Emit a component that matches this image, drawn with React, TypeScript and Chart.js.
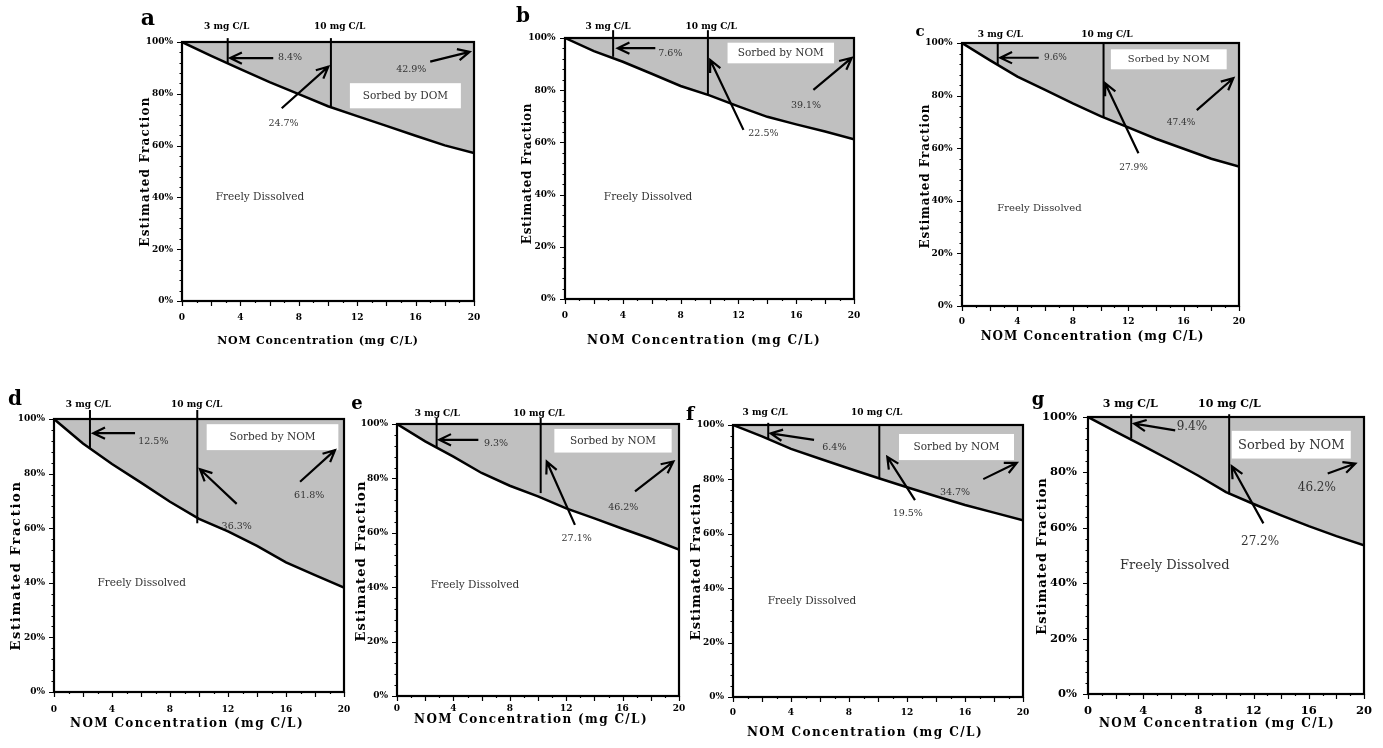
import React, { useEffect, useRef } from 'react';
import { Chart, registerables } from 'chart.js';

Chart.register(...registerables);

// ---------- data ----------
const concentration = [0, 2, 4, 6, 8, 10, 12, 14, 16, 18, 20];
const freeA = [100, 94.6, 89.5, 84.5, 79.9, 75.2, 71.4, 67.6, 63.8, 60.1, 57.1];
const freeB = [100, 95.0, 90.9, 86.3, 81.6, 78.0, 73.8, 69.8, 66.9, 64.2, 61.2];
const freeC = [100, 93.5, 87.2, 82.2, 77.0, 72.2, 67.9, 63.6, 59.8, 56.0, 53.0];
const freeD = [100, 91.0, 83.5, 76.7, 69.7, 63.4, 58.8, 53.5, 47.5, 42.8, 38.2];
const freeE = [100, 93.6, 88.0, 82.0, 77.3, 73.4, 69.0, 65.3, 61.5, 57.8, 53.8];
const freeF = [100, 95.8, 91.2, 87.6, 84.0, 80.5, 77.1, 73.8, 70.6, 67.8, 65.0];
const freeG = [100, 94.7, 89.6, 84.3, 78.8, 72.9, 68.6, 64.5, 60.6, 57.0, 53.7];

const sorbedA = ['8.4%', '24.7%', '42.9%'];
const sorbedB = ['7.6%', '22.5%', '39.1%'];
const sorbedC = ['9.6%', '27.9%', '47.4%'];
const sorbedD = ['12.5%', '36.3%', '61.8%'];
const sorbedE = ['9.3%', '27.1%', '46.2%'];
const sorbedF = ['6.4%', '19.5%', '34.7%'];
const sorbedG = ['9.4%', '27.2%', '46.2%'];

const xTickValues = [0, 4, 8, 12, 16, 20];
const yTickValues = [0, 20, 40, 60, 80, 100];
const markerLabels = ['3 mg C/L', '10 mg C/L'];
const xTitle = 'NOM Concentration (mg C/L)';
const yTitle = 'Estimated Fraction';
const freeLabel = 'Freely Dissolved';

const FONT = "'DejaVu Serif', serif";
const PAD_T = 50;
const PAD_R = 20;
const WY = 60;
const HX = 48;

type Pt = [number, number];
type Panel = {
  letter: string;
  free: number[];
  sorbed: string[];
  region: string;
  rect: [number, number, number, number];
  st: {
    tick: number; tickPadX: number; tickPadY: number;
    xt: number; xtSp: number; xtDy: number; xtDx: number;
    yt: number; ytSp: number; ytDx: number; ytDy: number;
    pct: number; box: number; freeF: number; mark: number;
    letter: number; letterAt: Pt;
  };
  lbl: [Pt, Pt];
  vlines: [number, number, number][];
  arrows: [number, number, number, number][];
  texts: Pt[];
  box: [number, number, number, number];
  freeAt: Pt;
};

const panels: Panel[] = [
  {
    letter: 'a', free: freeA, sorbed: sorbedA, region: 'Sorbed by DOM', rect: [182, 42, 474, 301],
    st: { tick: 9, tickPadX: 11.6, tickPadY: 9, xt: 11, xtSp: 0.75, xtDy: 40, xtDx: -10, yt: 12, ytSp: 1.2, ytDx: 36, ytDy: 0,
      pct: 9.5, box: 10.5, freeF: 10.5, mark: 9, letter: 22, letterAt: [-34, -23] },
    lbl: [[3.06, 105.9], [10.8, 105.9]],
    vlines: [[3.13, 101.5, 91.8], [10.2, 101.5, 75.0]],
    arrows: [[6.25, 93.8, 3.3, 93.8], [6.83, 74.4, 10.02, 90.5], [17.0, 92.4, 19.7, 96.2]],
    texts: [[7.4, 94], [6.95, 68.7], [15.7, 89.2]],
    box: [11.5, 84.1, 19.1, 74.4],
    freeAt: [5.34, 39.9],
  },
  {
    letter: 'b', free: freeB, sorbed: sorbedB, region: 'Sorbed by NOM', rect: [565, 38, 854, 299],
    st: { tick: 9, tickPadX: 11.3, tickPadY: 9.5, xt: 12, xtSp: 1.36, xtDy: 41.7, xtDx: -5.5, yt: 12, ytSp: 0.7, ytDx: 37, ytDy: 5,
      pct: 9.5, box: 10.5, freeF: 10.5, mark: 9, letter: 20, letterAt: [-42, -21] },
    lbl: [[2.98, 104.3], [10.12, 104.3]],
    vlines: [[3.33, 103, 92.8], [9.89, 103, 78.2]],
    arrows: [[6.25, 96.1, 3.65, 96.1], [12.35, 64.8, 10.05, 91.6], [17.19, 80.1, 19.84, 92.4]],
    texts: [[7.29, 94.1], [13.73, 63.5], [16.68, 74.3]],
    box: [11.25, 98.2, 18.62, 90.3],
    freeAt: [5.75, 38.8],
  },
  {
    letter: 'c', free: freeC, sorbed: sorbedC, region: 'Sorbed by NOM', rect: [962, 43, 1239, 306],
    st: { tick: 9, tickPadX: 10.3, tickPadY: 9.5, xt: 12, xtSp: 0.97, xtDy: 30.7, xtDx: -8, yt: 12, ytSp: 0.9, ytDx: 36.5, ytDy: 1.5,
      pct: 9, box: 10, freeF: 10, mark: 9, letter: 15, letterAt: [-42, -11] },
    lbl: [[2.77, 103.3], [10.47, 103.3]],
    vlines: [[2.58, 100, 91.6], [10.22, 100, 71.7]],
    arrows: [[5.54, 94.4, 2.77, 94.4], [12.74, 58.1, 10.34, 84.7], [16.95, 74.5, 19.59, 86.6]],
    texts: [[6.74, 94.3], [12.38, 52.5], [15.82, 69.6]],
    box: [10.75, 97.6, 19.11, 90.0],
    freeAt: [5.59, 37.1],
  },
  {
    letter: 'd', free: freeD, sorbed: sorbedD, region: 'Sorbed by NOM', rect: [54, 419, 344, 692],
    st: { tick: 9, tickPadX: 12.6, tickPadY: 9, xt: 12, xtSp: 1.36, xtDy: 32, xtDx: -12, yt: 13, ytSp: 1.7, ytDx: 37, ytDy: 10,
      pct: 9.5, box: 10.5, freeF: 10.5, mark: 9, letter: 20, letterAt: [-39, -19] },
    lbl: [[2.37, 105.4], [9.84, 105.4]],
    vlines: [[2.48, 103.3, 89.3], [9.88, 103.3, 61.8]],
    arrows: [[5.59, 94.8, 2.71, 94.8], [12.6, 68.9, 10.07, 81.6], [16.97, 77.0, 19.38, 88.6]],
    texts: [[6.85, 91.7], [12.6, 60.5], [17.6, 71.9]],
    box: [10.53, 98.1, 19.61, 88.6],
    freeAt: [6.05, 39.9],
  },
  {
    letter: 'e', free: freeE, sorbed: sorbedE, region: 'Sorbed by NOM', rect: [397, 424, 679, 696],
    st: { tick: 9, tickPadX: 7, tickPadY: 9, xt: 12, xtSp: 1.36, xtDy: 24, xtDx: -7, yt: 13, ytSp: 1.2, ytDx: 35, ytDy: 1,
      pct: 9.5, box: 10.5, freeF: 10.5, mark: 9, letter: 18, letterAt: [-40, -20] },
    lbl: [[2.86, 103.9], [10.07, 103.9]],
    vlines: [[2.81, 102.2, 91.2], [10.19, 102.2, 74.6]],
    arrows: [[5.77, 94.2, 3.0, 94.2], [12.62, 62.9, 10.62, 86.2], [16.88, 75.2, 19.6, 86.2]],
    texts: [[7.02, 93.0], [12.74, 58.0], [16.05, 69.4]],
    box: [11.16, 98.2, 19.48, 89.5],
    freeAt: [5.53, 40.8],
  },
  {
    letter: 'f', free: freeF, sorbed: sorbedF, region: 'Sorbed by NOM', rect: [733, 425, 1023, 697],
    st: { tick: 9, tickPadX: 10.6, tickPadY: 9, xt: 12, xtSp: 1.45, xtDy: 36, xtDx: -13, yt: 13, ytSp: 1.0, ytDx: 36, ytDy: 0.5,
      pct: 9.5, box: 10.5, freeF: 10.5, mark: 9, letter: 19, letterAt: [-43, -10] },
    lbl: [[2.21, 104.4], [9.91, 104.4]],
    vlines: [[2.43, 100.8, 94.9], [10.09, 100, 80.4]],
    arrows: [[5.59, 94.5, 2.6, 96.9], [12.55, 72.4, 10.64, 88.3], [17.26, 80.1, 19.57, 86.1]],
    texts: [[6.99, 91.7], [12.05, 67.5], [15.31, 75.1]],
    box: [11.45, 96.7, 19.38, 87.1],
    freeAt: [5.45, 35.3],
  },
  {
    letter: 'g', free: freeG, sorbed: sorbedG, region: 'Sorbed by NOM', rect: [1088, 417, 1364, 694],
    st: { tick: 11.5, tickPadX: 9.8, tickPadY: 11, xt: 12, xtSp: 1.45, xtDy: 30, xtDx: -9, yt: 13, ytSp: 1.0, ytDx: 45, ytDy: 0.5,
      pct: 12, box: 13, freeF: 13, mark: 11, letter: 18, letterAt: [-50, -17] },
    lbl: [[3.06, 104.8], [10.25, 104.8]],
    vlines: [[3.13, 101, 92.2], [10.23, 101, 72.1]],
    arrows: [[6.32, 95.2, 3.35, 97.6], [12.71, 61.6, 10.42, 82.2], [17.37, 79.6, 19.37, 83.2]],
    texts: [[7.53, 96.4], [12.47, 54.9], [16.58, 74.5]],
    box: [10.42, 95.0, 19.04, 85.0],
    freeAt: [6.29, 46.2],
  },
];

function drawArrow(ctx: CanvasRenderingContext2D, x1: number, y1: number, x2: number, y2: number, head: number, lw: number) {
  const a = Math.atan2(y2 - y1, x2 - x1);
  const s = 0.45;
  ctx.lineWidth = lw;
  ctx.lineJoin = 'miter';
  ctx.lineCap = 'butt';
  ctx.beginPath();
  ctx.moveTo(x1, y1);
  ctx.lineTo(x2, y2);
  ctx.moveTo(x2 - head * Math.cos(a - s), y2 - head * Math.sin(a - s));
  ctx.lineTo(x2, y2);
  ctx.lineTo(x2 - head * Math.cos(a + s), y2 - head * Math.sin(a + s));
  ctx.stroke();
}

function annotationPlugin(p: Panel) {
  return {
    id: 'annot' + p.letter,
    afterDatasetsDraw(chart: any) {
      const ctx: CanvasRenderingContext2D = chart.ctx;
      const xs = chart.scales.x;
      const ys = chart.scales.y;
      const X = (v: number) => xs.getPixelForValue(v);
      const Y = (v: number) => ys.getPixelForValue(v);
      const ca = chart.chartArea;
      const st = p.st;
      ctx.save();
      ctx.strokeStyle = '#000';
      ctx.fillStyle = '#000';

      // vertical marker lines
      ctx.lineWidth = 2;
      p.vlines.forEach(([x, y1, y2]) => {
        ctx.beginPath();
        ctx.moveTo(X(x), Y(y1));
        ctx.lineTo(X(x), Y(y2));
        ctx.stroke();
      });

      // white box with region label
      const [bx1, by1, bx2, by2] = p.box;
      ctx.fillStyle = '#fff';
      ctx.fillRect(X(bx1), Y(by1), X(bx2) - X(bx1), Y(by2) - Y(by1));
      ctx.fillStyle = '#333';
      ctx.textAlign = 'center';
      ctx.textBaseline = 'middle';
      ctx.font = `${st.box}px ${FONT}`;
      ctx.fillText(p.region, (X(bx1) + X(bx2)) / 2, (Y(by1) + Y(by2)) / 2 + 0.5);

      // arrows
      ctx.strokeStyle = '#000';
      p.arrows.forEach(([x1, y1, x2, y2]) => drawArrow(ctx, X(x1), Y(y1), X(x2), Y(y2), 13, 2.2));

      // percentages
      ctx.fillStyle = '#333';
      ctx.font = `${st.pct}px ${FONT}`;
      p.texts.forEach(([x, y], i) => ctx.fillText(p.sorbed[i], X(x), Y(y)));

      // freely dissolved
      ctx.font = `${st.freeF}px ${FONT}`;
      ctx.fillText(freeLabel, X(p.freeAt[0]), Y(p.freeAt[1]));

      // frame
      ctx.strokeStyle = '#000';
      ctx.lineWidth = 2.2;
      ctx.strokeRect(ca.left, ca.top, ca.right - ca.left, ca.bottom - ca.top);

      // tick marks
      ctx.lineWidth = 1.2;
      ctx.beginPath();
      for (let v = 0; v <= 100; v += 4) {
        const len = v % 20 === 0 ? 5 : 2.5;
        const y = Math.round(Y(v)) + 0.5;
        ctx.moveTo(ca.left, y);
        ctx.lineTo(ca.left - len, y);
      }
      for (let v = 0; v <= 20; v += 1) {
        const len = v % 2 === 0 ? 5 : 2;
        const x = Math.round(X(v)) + 0.5;
        ctx.moveTo(x, ca.bottom);
        ctx.lineTo(x, ca.bottom + len);
      }
      ctx.stroke();

      // marker labels
      ctx.fillStyle = '#000';
      ctx.font = `bold ${st.mark}px ${FONT}`;
      p.lbl.forEach(([x, y], i) => ctx.fillText(markerLabels[i], X(x), Y(y)));

      // panel letter
      ctx.font = `bold ${st.letter}px ${FONT}`;
      ctx.fillText(p.letter, ca.left + st.letterAt[0], ca.top + st.letterAt[1]);

      // axis titles
      (ctx as any).letterSpacing = `${st.xtSp}px`;
      ctx.font = `bold ${st.xt}px ${FONT}`;
      ctx.fillText(xTitle, (ca.left + ca.right) / 2 + st.xtDx, ca.bottom + st.xtDy);
      (ctx as any).letterSpacing = `${st.ytSp}px`;
      ctx.font = `bold ${st.yt}px ${FONT}`;
      ctx.translate(ca.left - st.ytDx, (ca.top + ca.bottom) / 2 + st.ytDy);
      ctx.rotate(-Math.PI / 2);
      ctx.fillText(yTitle, 0, 0);
      ctx.restore();
    },
  };
}

function PanelChart({ p }: { p: Panel }) {
  const ref = useRef<HTMLCanvasElement | null>(null);
  const [L, T, R, B] = p.rect;
  const w = R - L + WY + PAD_R;
  const h = B - T + PAD_T + HX;

  useEffect(() => {
    if (!ref.current) return;
    const tickFont = { family: FONT, size: p.st.tick, weight: 'bold' as const };
    const chart = new Chart(ref.current, {
      type: 'line',
      data: {
        datasets: [
          {
            data: concentration.map((c, i) => ({ x: c, y: p.free[i] })),
            borderColor: '#000',
            borderWidth: 2.5,
            backgroundColor: '#c0c0c0',
            fill: { value: 100 },
            pointRadius: 0,
            tension: 0,
          },
        ],
      },
      options: {
        responsive: false,
        animation: false,
        devicePixelRatio: 1,
        events: [],
        layout: { padding: { left: 0, top: PAD_T, right: PAD_R, bottom: 0 } },
        plugins: { legend: { display: false }, tooltip: { enabled: false } },
        scales: {
          x: {
            type: 'linear',
            min: 0,
            max: 20,
            grid: { display: false, drawTicks: false },
            border: { display: false },
            afterBuildTicks: (s: any) => { s.ticks = xTickValues.map((v) => ({ value: v })); },
            ticks: { padding: p.st.tickPadX, font: tickFont, color: '#000', maxRotation: 0, autoSkip: false },
            afterFit: (s: any) => { s.height = HX; },
          },
          y: {
            type: 'linear',
            min: 0,
            max: 100,
            grid: { display: false, drawTicks: false },
            border: { display: false },
            afterBuildTicks: (s: any) => { s.ticks = yTickValues.map((v) => ({ value: v })); },
            ticks: { padding: p.st.tickPadY, font: tickFont, color: '#000', callback: (v: any) => `${v}%` },
            afterFit: (s: any) => { s.width = WY; },
          },
        },
      } as any,
      plugins: [annotationPlugin(p)],
    });
    return () => chart.destroy();
  }, [p]);

  return (
    <canvas
      ref={ref}
      width={w}
      height={h}
      style={{ position: 'absolute', left: L - WY, top: T - PAD_T, width: w, height: h }}
    />
  );
}

export default function App() {
  return (
    <div
      style={{
        position: 'fixed',
        left: 0,
        top: 0,
        width: 1383,
        height: 748,
        overflow: 'hidden',
        background: '#fff',
      }}
    >
      {panels.map((p) => (
        <PanelChart key={p.letter} p={p} />
      ))}
    </div>
  );
}
